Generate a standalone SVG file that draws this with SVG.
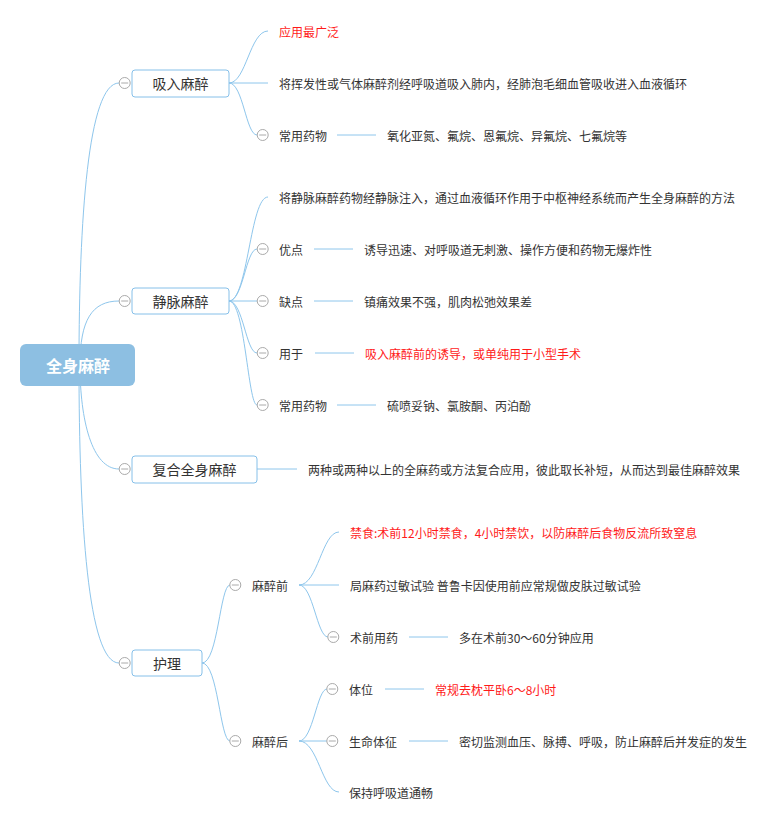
<svg xmlns="http://www.w3.org/2000/svg" width="779" height="825" viewBox="0 0 779 825">
<style>
  text { font-family: "Noto Sans CJK SC", "Noto Sans", sans-serif; fill: #333; dominant-baseline: central; }
  .t12 { font-size: 12px; }
  .t14 { font-size: 14px; }
  .red { fill: #FF1A1A; }
  .root { font-size: 16px; font-weight: bold; fill: #fff; text-anchor: middle; }
  .box { fill: #fff; stroke: #86C0E9; stroke-width: 1; }
  .conn path, .conn line { fill: none; stroke: #8EC6EC; stroke-width: 1; }
  .tog circle { fill: #fff; stroke: #AAAAAA; stroke-width: 1; }
  .tog line { stroke: #AAAAAA; stroke-width: 1; }
</style>
<defs>
  <g id="minus" class="tog"><circle cx="0" cy="0" r="5.5"/><line x1="-3.5" y1="0" x2="3.5" y2="0"/></g>
</defs>
<rect width="779" height="825" fill="#fff"/>

<g id="connectors" class="conn">
  <!-- root to level1 -->
  <path d="M79,365 C79,220 88,83 119,83"/>
  <path d="M80,365 C80,320 92,301 119,301"/>
  <path d="M80,365 C80,420 92,469 119,469"/>
  <path d="M79,365 C79,520 88,663 119,663"/>
  <!-- 吸入麻醉 -->
  <path d="M229,83 C246,83 250,31 268,31"/>
  <path d="M229,83 L268,83"/>
  <path d="M229,83 C243,83 246,135 257,135"/>
  <line x1="337" y1="135" x2="376" y2="135"/>
  <!-- 静脉麻醉 -->
  <path d="M229,301 C248,301 250,197 268,197"/>
  <path d="M229,301 C243,301 246,249 257,249"/>
  <path d="M229,301 L257,301"/>
  <path d="M229,301 C243,301 246,353 257,353"/>
  <path d="M229,301 C245,301 248,405 257,405"/>
  <line x1="314" y1="249" x2="353" y2="249"/>
  <line x1="314" y1="301" x2="353" y2="301"/>
  <line x1="315" y1="353" x2="354" y2="353"/>
  <line x1="337" y1="405" x2="376" y2="405"/>
  <!-- 复合全身麻醉 -->
  <line x1="257" y1="469" x2="297" y2="469"/>
  <!-- 护理 -->
  <path d="M202,663 C218,663 220,585 230,585"/>
  <path d="M202,663 C218,663 220,741 230,741"/>
  <!-- 麻醉前 -->
  <path d="M299,585 C318,585 322,532 339,532"/>
  <path d="M299,585 L339,585"/>
  <path d="M299,585 C313,585 317,637 328,637"/>
  <line x1="409" y1="637" x2="448" y2="637"/>
  <!-- 麻醉后 -->
  <path d="M299,741 C313,741 317,689 327,689"/>
  <path d="M299,741 L327,741"/>
  <path d="M299,741 C318,741 322,792 339,792"/>
  <line x1="385" y1="689" x2="424" y2="689"/>
  <line x1="409" y1="741" x2="448" y2="741"/>
</g>

<g id="root">
  <rect x="20" y="344" width="115" height="42" rx="6" fill="#8DBFE2"/>
  <text class="root" x="78" y="365">全身麻醉</text>
</g>

<g id="n-xiru">
  <rect class="box" x="132" y="70" width="97" height="27" rx="3"/>
  <use href="#minus" x="124.7" y="83"/>
  <text class="t14" x="180.5" y="83" text-anchor="middle">吸入麻醉</text>
</g>
<g id="n-xiru-1"><text class="t12 red" x="279" y="31">应用最广泛</text></g>
<g id="n-xiru-2"><text class="t12" x="279" y="83">将挥发性或气体麻醉剂经呼吸道吸入肺内，经肺泡毛细血管吸收进入血液循环</text></g>
<g id="n-xiru-3">
  <use href="#minus" x="262.7" y="135"/>
  <text class="t12" x="279" y="135">常用药物</text>
</g>
<g id="n-xiru-3a"><text class="t12" x="387" y="135">氧化亚氮、氟烷、恩氟烷、异氟烷、七氟烷等</text></g>

<g id="n-jingmai">
  <rect class="box" x="132" y="288" width="97" height="26" rx="3"/>
  <use href="#minus" x="124.7" y="301"/>
  <text class="t14" x="180.5" y="301" text-anchor="middle">静脉麻醉</text>
</g>
<g id="n-jm-1"><text class="t12" x="279" y="197">将静脉麻醉药物经静脉注入，通过血液循环作用于中枢神经系统而产生全身麻醉的方法</text></g>
<g id="n-jm-2">
  <use href="#minus" x="262.7" y="249"/>
  <text class="t12" x="279" y="249">优点</text>
</g>
<g id="n-jm-2a"><text class="t12" x="364" y="249">诱导迅速、对呼吸道无刺激、操作方便和药物无爆炸性</text></g>
<g id="n-jm-3">
  <use href="#minus" x="262.7" y="301"/>
  <text class="t12" x="279" y="301">缺点</text>
</g>
<g id="n-jm-3a"><text class="t12" x="364" y="301">镇痛效果不强，肌肉松弛效果差</text></g>
<g id="n-jm-4">
  <use href="#minus" x="262.7" y="353"/>
  <text class="t12" x="279" y="353">用于</text>
</g>
<g id="n-jm-4a"><text class="t12 red" x="365" y="353">吸入麻醉前的诱导，或单纯用于小型手术</text></g>
<g id="n-jm-5">
  <use href="#minus" x="262.7" y="405"/>
  <text class="t12" x="279" y="405">常用药物</text>
</g>
<g id="n-jm-5a"><text class="t12" x="387" y="405">硫喷妥钠、氯胺酮、丙泊酚</text></g>

<g id="n-fuhe">
  <rect class="box" x="132" y="456" width="125" height="27" rx="3"/>
  <use href="#minus" x="124.7" y="469"/>
  <text class="t14" x="194.5" y="469" text-anchor="middle">复合全身麻醉</text>
</g>
<g id="n-fuhe-1"><text class="t12" x="308" y="469">两种或两种以上的全麻药或方法复合应用，彼此取长补短，从而达到最佳麻醉效果</text></g>

<g id="n-huli">
  <rect class="box" x="132" y="650" width="70" height="26" rx="3"/>
  <use href="#minus" x="124.7" y="663"/>
  <text class="t14" x="167" y="663" text-anchor="middle">护理</text>
</g>
<g id="n-mzq">
  <use href="#minus" x="235.3" y="585"/>
  <text class="t12" x="252" y="585">麻醉前</text>
</g>
<g id="n-mzq-1"><text class="t12 red" x="350" y="532">禁食:术前12小时禁食，4小时禁饮，以防麻醉后食物反流所致窒息</text></g>
<g id="n-mzq-2"><text class="t12" x="350" y="585">局麻药过敏试验 普鲁卡因使用前应常规做皮肤过敏试验</text></g>
<g id="n-mzq-3">
  <use href="#minus" x="333.3" y="637"/>
  <text class="t12" x="350" y="637">术前用药</text>
</g>
<g id="n-mzq-3a"><text class="t12" x="459" y="637">多在术前30～60分钟应用</text></g>
<g id="n-mzh">
  <use href="#minus" x="235.3" y="741"/>
  <text class="t12" x="252" y="741">麻醉后</text>
</g>
<g id="n-mzh-1">
  <use href="#minus" x="332.3" y="689"/>
  <text class="t12" x="349" y="689">体位</text>
</g>
<g id="n-mzh-1a"><text class="t12 red" x="435" y="689">常规去枕平卧6～8小时</text></g>
<g id="n-mzh-2">
  <use href="#minus" x="332.3" y="741"/>
  <text class="t12" x="349" y="741">生命体征</text>
</g>
<g id="n-mzh-2a"><text class="t12" x="459" y="741">密切监测血压、脉搏、呼吸，防止麻醉后并发症的发生</text></g>
<g id="n-mzh-3"><text class="t12" x="349" y="792">保持呼吸道通畅</text></g>
</svg>
